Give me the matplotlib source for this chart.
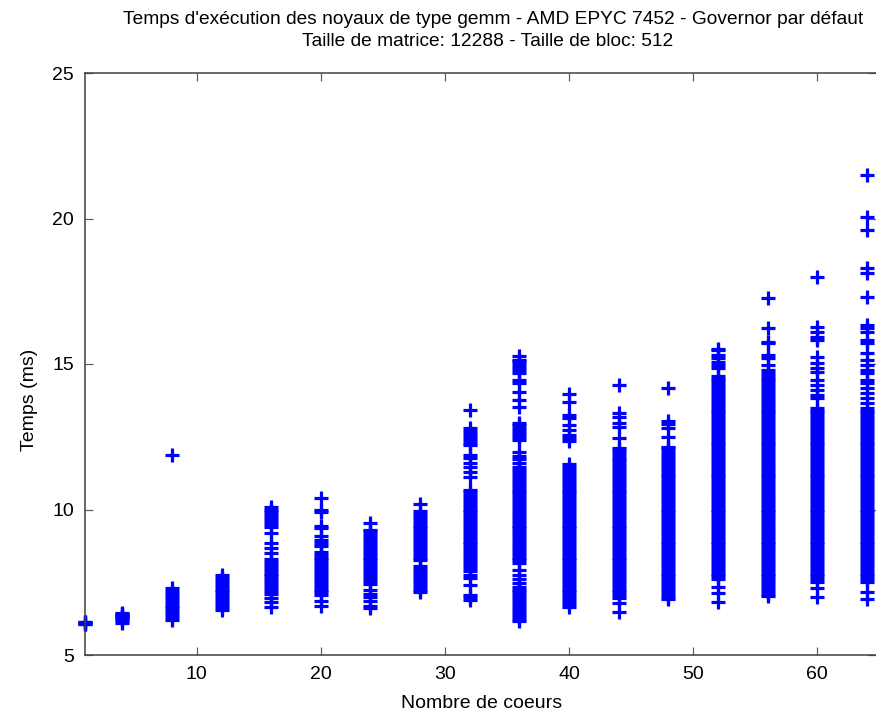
import matplotlib
matplotlib.use("Agg")
import matplotlib.pyplot as plt

plt.rcParams['font.family'] = ['Liberation Sans', 'DejaVu Sans']

# Number of cores (x categories)
cores = [1, 4, 8, 12, 16, 20, 24, 28, 32, 36, 40, 44, 48, 52, 56, 60, 64]

# Execution times (ms), one list per core count
t1 = [6.05, 6.08, 6.1, 6.12, 6.15]
t4 = [6.1, 6.18, 6.22, 6.26, 6.3, 6.33, 6.36, 6.4, 6.45]
t8 = [6.2, 6.3, 6.4, 6.5, 6.6, 6.7, 6.8, 6.9, 7.0, 7.1, 7.2, 7.3, 11.87]
t12 = [6.55, 6.65, 6.75, 6.85, 6.95, 7.05, 7.15, 7.25, 7.35, 7.45, 7.55, 7.65, 7.75]
t16 = [6.65, 6.82, 6.96, 7.1, 7.2, 7.3, 7.4, 7.5, 7.6, 7.7, 7.8, 7.9, 8.0, 8.1,
       8.2, 8.3, 8.5, 8.69, 8.85, 9.19, 9.4, 9.5, 9.6, 9.7, 9.8, 9.9, 10.0, 10.1]
t20 = [6.68, 6.86, 7.05, 7.15, 7.25, 7.35, 7.45, 7.55, 7.65, 7.75, 7.85, 7.95,
       8.05, 8.15, 8.25, 8.35, 8.45, 8.55, 8.75, 8.85, 8.95, 9.1, 9.35, 9.45,
       9.9, 10.0, 10.4]
t24 = [6.6, 6.7, 6.85, 7.0, 7.1, 7.25, 7.45, 7.55, 7.65, 7.75, 7.85, 7.95, 8.05,
       8.15, 8.25, 8.35, 8.45, 8.55, 8.65, 8.75, 8.85, 8.95, 9.05, 9.15, 9.25,
       9.3, 9.55]
t28 = [7.15, 7.25, 7.35, 7.45, 7.55, 7.65, 7.75, 7.85, 7.95, 8.05, 8.25, 8.35,
       8.45, 8.55, 8.65, 8.75, 8.85, 8.95, 9.05, 9.15, 9.25, 9.35, 9.45, 9.55,
       9.65, 9.75, 9.85, 9.95, 10.2]
t32 = [6.88, 6.98, 7.06, 7.4, 7.65, 7.75, 7.9, 8.0, 8.1, 8.2, 8.3, 8.4, 8.5, 8.6,
       8.7, 8.8, 8.9, 9.0, 9.1, 9.2, 9.3, 9.4, 9.5, 9.6, 9.7, 9.8, 9.9, 10.0,
       10.1, 10.2, 10.3, 10.4, 10.5, 10.6, 10.67, 11.12, 11.29, 11.46, 11.6,
       11.77, 11.87, 12.2, 12.3, 12.4, 12.5, 12.6, 12.7, 12.8, 13.42]
t36 = [6.17, 6.25, 6.35, 6.45, 6.55, 6.65, 6.75, 6.85, 6.95, 7.05, 7.15, 7.25,
       7.34, 7.47, 7.6, 7.75, 7.92, 8.16, 8.25, 8.35, 8.45, 8.55, 8.65, 8.75,
       8.85, 8.95, 9.05, 9.15, 9.25, 9.35, 9.45, 9.55, 9.65, 9.75, 9.85, 9.95,
       10.05, 10.15, 10.25, 10.35, 10.45, 10.55, 10.65, 10.75, 10.85, 10.95,
       11.05, 11.15, 11.25, 11.36, 11.46, 11.6, 11.75, 11.85, 11.97, 12.39,
       12.49, 12.59, 12.69, 12.79, 12.89, 12.97, 13.52, 13.76, 14.04, 14.35,
       14.45, 14.7, 14.8, 14.9, 15.0, 15.1, 15.14, 15.27]
t40 = [6.65, 6.75, 6.85, 6.95, 7.05, 7.15, 7.25, 7.35, 7.45, 7.55, 7.65, 7.75,
       7.85, 7.95, 8.05, 8.15, 8.25, 8.35, 8.45, 8.55, 8.65, 8.75, 8.85, 8.95,
       9.05, 9.15, 9.25, 9.35, 9.45, 9.55, 9.65, 9.75, 9.85, 9.95, 10.05, 10.15,
       10.25, 10.35, 10.45, 10.55, 10.65, 10.75, 10.85, 10.95, 11.05, 11.15,
       11.25, 11.35, 11.45, 11.55, 12.35, 12.46, 12.56, 12.73, 12.9, 13.15,
       13.25, 13.7, 13.97]
t44 = [6.48, 6.79, 6.96, 7.05, 7.15, 7.25, 7.35, 7.45, 7.55, 7.65, 7.75, 7.85,
       7.95, 8.05, 8.15, 8.25, 8.35, 8.45, 8.55, 8.65, 8.75, 8.85, 8.95, 9.05,
       9.15, 9.25, 9.35, 9.45, 9.55, 9.65, 9.75, 9.85, 9.95, 10.05, 10.15, 10.25,
       10.35, 10.45, 10.55, 10.65, 10.75, 10.85, 10.95, 11.05, 11.15, 11.25,
       11.35, 11.45, 11.55, 11.65, 11.75, 11.85, 11.95, 12.05, 12.11, 12.46,
       12.84, 12.97, 13.18, 13.3, 14.28]
t48 = [6.92, 7.0, 7.1, 7.2, 7.3, 7.4, 7.5, 7.6, 7.7, 7.8, 7.9, 8.0, 8.1, 8.2,
       8.3, 8.4, 8.5, 8.6, 8.7, 8.8, 8.9, 9.0, 9.1, 9.2, 9.3, 9.4, 9.5, 9.6, 9.7,
       9.8, 9.9, 10.0, 10.1, 10.2, 10.3, 10.4, 10.5, 10.6, 10.7, 10.8, 10.9,
       11.0, 11.1, 11.2, 11.3, 11.4, 11.5, 11.6, 11.7, 11.8, 11.9, 12.0, 12.1,
       12.15, 12.49, 12.8, 12.95, 13.05, 14.18]
t52 = [6.82, 7.13, 7.34, 7.6, 7.7, 7.8, 7.9, 8.0, 8.1, 8.2, 8.3, 8.4, 8.5, 8.6,
       8.7, 8.8, 8.9, 9.0, 9.1, 9.2, 9.3, 9.4, 9.5, 9.6, 9.7, 9.8, 9.9, 10.0,
       10.1, 10.2, 10.3, 10.4, 10.5, 10.6, 10.7, 10.8, 10.9, 11.0, 11.1, 11.2,
       11.3, 11.4, 11.5, 11.6, 11.7, 11.8, 11.9, 12.0, 12.1, 12.2, 12.3, 12.4,
       12.5, 12.6, 12.7, 12.8, 12.9, 13.0, 13.1, 13.2, 13.3, 13.4, 13.5, 13.6,
       13.7, 13.8, 13.9, 14.0, 14.1, 14.2, 14.3, 14.4, 14.5, 14.6, 14.86, 14.97,
       15.07, 15.2, 15.31, 15.48, 15.52]
t56 = [7.03, 7.1, 7.2, 7.3, 7.4, 7.5, 7.6, 7.7, 7.8, 7.9, 8.0, 8.1, 8.2, 8.3,
       8.4, 8.5, 8.6, 8.7, 8.8, 8.9, 9.0, 9.1, 9.2, 9.3, 9.4, 9.5, 9.6, 9.7, 9.8,
       9.9, 10.0, 10.1, 10.2, 10.3, 10.4, 10.5, 10.6, 10.7, 10.8, 10.9, 11.0,
       11.1, 11.2, 11.3, 11.4, 11.5, 11.6, 11.7, 11.8, 11.9, 12.0, 12.1, 12.2,
       12.3, 12.4, 12.5, 12.6, 12.7, 12.8, 12.9, 13.0, 13.1, 13.2, 13.3, 13.4,
       13.5, 13.6, 13.7, 13.8, 13.9, 14.0, 14.1, 14.2, 14.3, 14.4, 14.5, 14.6,
       14.7, 14.8, 14.97, 15.2, 15.31, 15.72, 15.76, 16.24, 17.27]
t60 = [6.99, 7.3, 7.5, 7.6, 7.7, 7.8, 7.9, 8.0, 8.1, 8.2, 8.3, 8.4, 8.5, 8.6,
       8.7, 8.8, 8.9, 9.0, 9.1, 9.2, 9.3, 9.4, 9.5, 9.6, 9.7, 9.8, 9.9, 10.0,
       10.1, 10.2, 10.3, 10.4, 10.5, 10.6, 10.7, 10.8, 10.9, 11.0, 11.1, 11.2,
       11.3, 11.4, 11.5, 11.6, 11.7, 11.8, 11.9, 12.0, 12.1, 12.2, 12.3, 12.4,
       12.5, 12.6, 12.7, 12.8, 12.9, 13.0, 13.1, 13.2, 13.3, 13.4, 13.5, 13.83,
       13.93, 14.1, 14.28, 14.45, 14.72, 14.86, 15.03, 15.24, 15.82, 15.93,
       16.1, 16.27, 17.99]
t64 = [6.92, 7.16, 7.5, 7.6, 7.7, 7.8, 7.9, 8.0, 8.1, 8.2, 8.3, 8.4, 8.5, 8.6,
       8.7, 8.8, 8.9, 9.0, 9.1, 9.2, 9.3, 9.4, 9.5, 9.6, 9.7, 9.8, 9.9, 10.0,
       10.1, 10.2, 10.3, 10.4, 10.5, 10.6, 10.7, 10.8, 10.9, 11.0, 11.1, 11.2,
       11.3, 11.4, 11.5, 11.6, 11.7, 11.8, 11.9, 12.0, 12.1, 12.2, 12.3, 12.4,
       12.5, 12.6, 12.7, 12.8, 12.9, 13.0, 13.1, 13.2, 13.3, 13.4, 13.5, 13.66,
       13.83, 14.0, 14.18, 14.35, 14.45, 14.69, 14.79, 14.97, 15.14, 15.38,
       15.72, 15.82, 16.1, 16.24, 16.34, 17.3, 18.13, 18.3, 19.6, 20.05, 21.5]

times = [t1, t4, t8, t12, t16, t20, t24, t28, t32, t36, t40, t44, t48, t52,
         t56, t60, t64]

xticks = [10, 20, 30, 40, 50, 60]
yticks = [5, 10, 15, 20, 25]

title1 = "Temps d'exécution des noyaux de type gemm - AMD EPYC 7452 - Governor par défaut"
title2 = "Taille de matrice: 12288 - Taille de bloc: 512"
xlabel = "Nombre de coeurs"
ylabel = "Temps (ms)"

W, H = 876, 716
fig = plt.figure(figsize=(W / 100, H / 100), dpi=100)
ax = fig.add_axes([85 / W, 1 - 655 / H, (W - 85) / W, (655 - 73) / H])

for c, ts in zip(cores, times):
    ax.plot([c] * len(ts), ts, linestyle='none', marker='+', color='#0000ff',
            markersize=9.5, markeredgewidth=2.3, clip_on=False)

ax.set_xlim(1, 64.74)
ax.set_ylim(5, 25)
ax.set_xticks(xticks)
ax.set_yticks(yticks)
ax.set_xticklabels([str(v) for v in xticks])
ax.set_yticklabels([str(v) for v in yticks])

for side in ['left', 'bottom', 'top']:
    ax.spines[side].set_color('#404040')
    ax.spines[side].set_linewidth(1.1)
ax.spines['right'].set_visible(False)
ax.tick_params(direction='in', length=6, width=0.9, color='#606060',
               labelsize=14, top=True, right=True, pad=8, labelcolor='black')

fig.text(493 / W, 1 - 19 / H, title1, ha='center', va='center', fontsize=13.8)
fig.text(488 / W, 1 - 41 / H, title2, ha='center', va='center', fontsize=13.8)
fig.text(482 / W, 1 - 703 / H, xlabel, ha='center', va='center', fontsize=14)
fig.text(30 / W, 1 - 400 / H, ylabel, ha='center', va='center', fontsize=14,
         rotation=90)

fig.savefig('out.png', dpi=100)
